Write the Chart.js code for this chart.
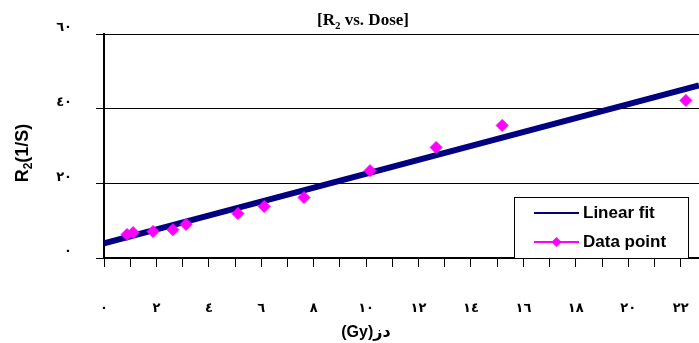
<!DOCTYPE html>
<html><head><meta charset="utf-8">
<script src="https://cdn.jsdelivr.net/npm/chart.js@4.4.0/dist/chart.umd.min.js"></script>
<style>html,body{margin:0;padding:0;background:#fff}</style>
</head><body>
<canvas id="c" width="699" height="343" style="width:699px;height:343px;display:block"></canvas>
<script>
// ---- data ----
const doseX = [0.88, 1.11, 1.87, 2.63, 3.13, 5.11, 6.11, 7.63, 10.15, 12.67, 15.19, 22.2];
const r2Y   = [6.3, 6.8, 7.1, 7.6, 9.0, 11.9, 13.8, 16.2, 23.4, 29.6, 35.5, 42.2];
const fitX  = [0, 22.7];
const fitY  = [3.9, 46.2];
const xTickValues = [0, 2, 4, 6, 8, 10, 12, 14, 16, 18, 20, 22];
const xTickLabels = ['٠','٢','٤','٦','٨','١٠','١٢','١٤','١٦','١٨','٢٠','٢٢'];
const yTickValues = [0, 20, 40, 60];
const yTickLabels = ['٠','٢٠','٤٠','٦٠'];
const seriesLabels = ['Linear fit', 'Data point'];
const titleParts = ['[R', '2', ' vs. Dose]'];
const yTitleParts = ['R', '2', '(1/S)'];
const xTitle = '(Gy)دز';

const NAVY = '#000080', PINK = '#FF00FF';

const textPlugin = {
  id: 'texts',
  afterDraw(chart) {
    const ctx = chart.ctx;
    ctx.save();
    ctx.fillStyle = '#000';
    ctx.textBaseline = 'alphabetic';
    // title
    const big = 'bold 17px "Liberation Serif", "Times New Roman", serif';
    const small = 'bold 11px "Liberation Serif", "Times New Roman", serif';
    ctx.font = big; const w0 = ctx.measureText(titleParts[0]).width, w2 = ctx.measureText(titleParts[2]).width;
    ctx.font = small; const w1 = ctx.measureText(titleParts[1]).width;
    let x = 363 - (w0 + w1 + w2) / 2;
    ctx.textAlign = 'left';
    ctx.font = big; ctx.fillText(titleParts[0], x, 25); x += w0;
    ctx.font = small; ctx.fillText(titleParts[1], x, 29); x += w1;
    ctx.font = big; ctx.fillText(titleParts[2], x, 25);
    // y title
    const yb = 'bold 18px "Liberation Sans", Arial, sans-serif';
    const ys = 'bold 12px "Liberation Sans", Arial, sans-serif';
    ctx.font = yb; const a0 = ctx.measureText(yTitleParts[0]).width, a2 = ctx.measureText(yTitleParts[2]).width;
    ctx.font = ys; const a1 = ctx.measureText(yTitleParts[1]).width;
    ctx.save();
    ctx.translate(27.5, 153);
    ctx.rotate(-Math.PI / 2);
    let yx = -(a0 + a1 + a2) / 2;
    ctx.font = yb; ctx.fillText(yTitleParts[0], yx, 0); yx += a0;
    ctx.font = ys; ctx.fillText(yTitleParts[1], yx, 4); yx += a1;
    ctx.font = yb; ctx.fillText(yTitleParts[2], yx, 0);
    ctx.restore();
    // x title
    ctx.font = 'bold 16px "Liberation Sans", Arial, "DejaVu Sans", sans-serif';
    ctx.textAlign = 'center';
    ctx.fillText(xTitle, 366, 337);
    // legend
    ctx.fillStyle = '#fff';
    ctx.fillRect(514.5, 197.5, 174, 61);
    ctx.strokeStyle = '#000'; ctx.lineWidth = 1;
    ctx.strokeRect(514.5, 197.5, 174, 61);
    ctx.lineWidth = 2;
    ctx.strokeStyle = NAVY;
    ctx.beginPath(); ctx.moveTo(534, 213); ctx.lineTo(579, 213); ctx.stroke();
    ctx.strokeStyle = PINK;
    ctx.beginPath(); ctx.moveTo(534, 242); ctx.lineTo(579, 242); ctx.stroke();
    ctx.fillStyle = PINK;
    ctx.beginPath(); ctx.moveTo(556.5, 237); ctx.lineTo(561.5, 242); ctx.lineTo(556.5, 247); ctx.lineTo(551.5, 242); ctx.closePath(); ctx.fill();
    ctx.fillStyle = '#000';
    ctx.textAlign = 'left'; ctx.textBaseline = 'middle';
    ctx.font = 'bold 17px "Liberation Sans", Arial, sans-serif';
    ctx.fillText(chart.data.datasets[0].label, 583, 213);
    ctx.fillText(chart.data.datasets[1].label, 583, 242);
    ctx.restore();
  }
};

const tickFont = { family: '"DejaVu Sans", sans-serif', size: 13, weight: 'bold' };

new Chart(document.getElementById('c'), {
  type: 'scatter',
  data: {
    datasets: [
      {
        label: seriesLabels[0],
        type: 'line',
        data: fitX.map((v, i) => ({ x: v, y: fitY[i] })),
        borderColor: NAVY, backgroundColor: NAVY, borderWidth: 6,
        pointRadius: 0, showLine: true, fill: false, order: 2
      },
      {
        label: seriesLabels[1],
        data: doseX.map((v, i) => ({ x: v, y: r2Y[i] })),
        pointStyle: 'rectRot', pointRadius: 6, pointHoverRadius: 6,
        backgroundColor: PINK, borderColor: PINK, borderWidth: 1, order: 1
      }
    ]
  },
  options: {
    responsive: false,
    animation: false,
    devicePixelRatio: 1,
    layout: { autoPadding: false, padding: { top: 34, right: 0, left: 0, bottom: 0 } },
    plugins: { legend: { display: false }, title: { display: false }, tooltip: { enabled: false } },
    scales: {
      x: {
        type: 'linear', min: 0, max: 22.7,
        afterFit(s) { s.height = 85; s.paddingLeft = 0; s.paddingRight = 0; },
        border: { display: true, color: '#000', width: 2 },
        grid: { drawOnChartArea: false, drawTicks: true, tickLength: 9, color: '#000', lineWidth: 1 },
        ticks: {
          stepSize: 1, includeBounds: false, autoSkip: false, maxRotation: 0, padding: 34,
          color: '#000', font: tickFont,
          callback(v) { const i = xTickValues.indexOf(v); return i >= 0 ? xTickLabels[i] : ''; }
        }
      },
      y: {
        type: 'linear', min: 0, max: 60,
        afterFit(s) { s.width = 104; s.paddingTop = 0; s.paddingBottom = 0; },
        border: { display: true, color: '#000', width: 2 },
        grid: { drawOnChartArea: true, drawTicks: true, tickLength: 8, color: '#000', lineWidth: 1 },
        ticks: {
          stepSize: 20, padding: 24, labelOffset: -6, color: '#000', font: tickFont,
          callback(v) { const i = yTickValues.indexOf(v); return i >= 0 ? yTickLabels[i] : ''; }
        }
      }
    }
  },
  plugins: [textPlugin]
});
</script>
</body></html>
